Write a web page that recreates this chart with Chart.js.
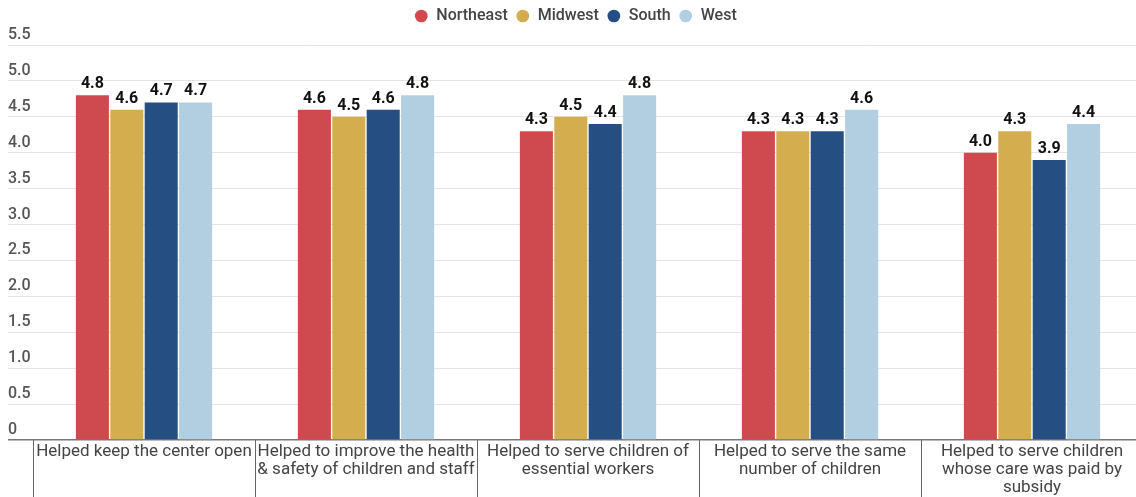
<!DOCTYPE html>
<html>
<head>
<meta charset="utf-8">
<script src="https://cdn.jsdelivr.net/npm/chart.js@4"></script>
<style>
  html, body { margin: 0; padding: 0; background: #fff; overflow: hidden; }
  #wrap { position: relative; width: 1150px; height: 497px; }
</style>
</head>
<body>
<div id="wrap"><canvas id="myChart"></canvas></div>
<script>
// 類別與各區數值
const categories = [
  ['Helped keep the center open'],
  ['Helped to improve the health', '& safety of children and staff'],
  ['Helped to serve children of', 'essential workers'],
  ['Helped to serve the same', 'number of children'],
  ['Helped to serve children', 'whose care was paid by', 'subsidy']
];
const regions = ['Northeast', 'Midwest', 'South', 'West'];
const northeast = [4.8, 4.6, 4.3, 4.3, 4.0];
const midwest = [4.6, 4.5, 4.5, 4.3, 4.3];
const south = [4.7, 4.6, 4.4, 4.3, 3.9];
const west = [4.7, 4.8, 4.8, 4.6, 4.4];
const regionColors = ['#cf4a4e', '#d4ad4f', '#254f83', '#b1cfe1'];

const yMax = 5.5;
const yStep = 0.5;

// 在長條上方寫出數值
const barValueLabels = {
  id: 'barValueLabels',
  afterDatasetsDraw(chart) {
    const ctx = chart.ctx;
    ctx.save();
    ctx.font = '700 16px Roboto';
    ctx.fillStyle = '#111';
    ctx.textAlign = 'center';
    ctx.textBaseline = 'bottom';
    chart.data.datasets.forEach((ds, i) => {
      chart.getDatasetMeta(i).data.forEach((bar, j) => {
        ctx.fillText(ds.data[j].toFixed(1), bar.x, bar.y - 3);
      });
    });
    ctx.restore();
  }
};

// 圖例下方多留一點空間
const legendGap = {
  id: 'legendGap',
  beforeInit(chart) {
    const origFit = chart.legend.fit;
    chart.legend.fit = function () {
      origFit.call(this);
      this.height += 11;
    };
  }
};

const seriesData = [northeast, midwest, south, west];

const ctx = document.getElementById('myChart').getContext('2d');
const myChart = new Chart(ctx, {
  type: 'bar',
  data: {
    labels: categories,
    datasets: regions.map((name, i) => ({
      label: name,
      data: seriesData[i],
      backgroundColor: regionColors[i],
      borderWidth: 0,
      barPercentage: 0.96,
      categoryPercentage: 0.62
    }))
  },
  options: {
    responsive: true,
    maintainAspectRatio: false,
    animation: false,
    layout: { padding: { left: 8, right: 7, top: 0, bottom: 0 } },
    plugins: {
      tooltip: { enabled: false },
      legend: {
        position: 'top',
        labels: {
          usePointStyle: true,
          pointStyle: 'circle',
          boxWidth: 14,
          boxHeight: 9,
          padding: 8,
          color: '#444',
          font: { family: 'Roboto', size: 16, weight: '500' }
        }
      }
    },
    scales: {
      x: {
        offset: true,
        border: { display: false },
        grid: {
          offset: true,
          drawOnChartArea: false,
          drawTicks: true,
          tickLength: 57,
          tickColor: '#666',
          lineWidth: 1
        },
        ticks: {
          padding: -54,
          autoSkip: false,
          maxRotation: 0,
          color: '#444',
          font: { family: 'Roboto', size: 17, weight: '400', lineHeight: '18px' }
        },
        afterFit: (scale) => { scale.height = 57; }
      },
      y: {
        min: 0,
        max: yMax,
        border: { display: false },
        grid: {
          color: (c) => (c.tick && c.tick.value === 0 ? '#777' : '#e4e4e4'),
          tickColor: (c) => (c.tick && c.tick.value === 0 ? '#777' : '#e4e4e4'),
          lineWidth: (c) => (c.tick && c.tick.value === 0 ? 1.5 : 1),
          drawTicks: true,
          tickLength: 25
        },
        ticks: {
          stepSize: yStep,
          mirror: true,
          padding: -25,
          labelOffset: -10,
          color: '#555',
          font: { family: 'Roboto', size: 16, weight: '500' },
          callback: (v) => (v === 0 ? '0' : v.toFixed(1))
        },
        afterFit: (scale) => { scale.width = 25; }
      }
    }
  },
  plugins: [barValueLabels, legendGap]
});
</script>
</body>
</html>
